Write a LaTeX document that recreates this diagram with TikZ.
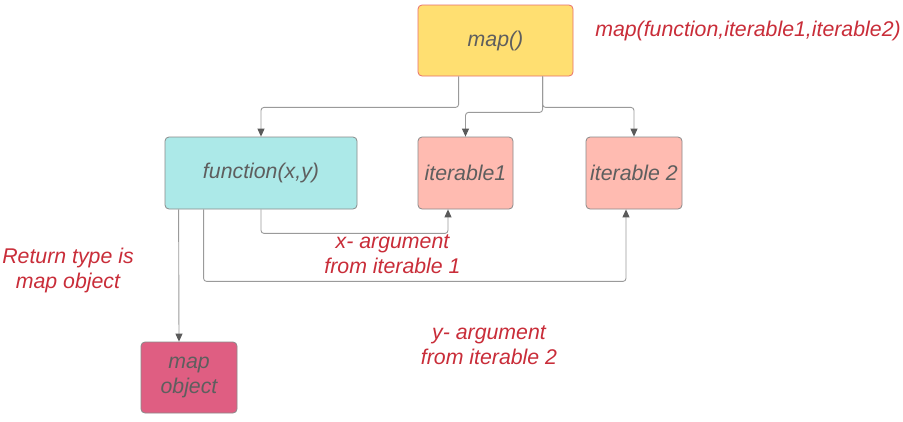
\documentclass[tikz,border=0pt]{standalone}
\usepackage{fontspec}
\setmainfont{Liberation Sans}
\usetikzlibrary{arrows.meta}

\definecolor{mapyellow}{HTML}{FFDF71}
\definecolor{mapedge}{HTML}{E8706B}
\definecolor{funccyan}{HTML}{ACE9E8}
\definecolor{itersalmon}{HTML}{FFBBB1}
\definecolor{objpink}{HTML}{DF5E82}
\definecolor{boxedge}{HTML}{8A8A8A}
\definecolor{boxtext}{HTML}{5E5E5E}
\definecolor{notered}{HTML}{C92D39}
\definecolor{linegray}{HTML}{9A9A9A}
\definecolor{tipgray}{HTML}{5A5A5A}

\begin{document}
\begin{tikzpicture}[x=1pt,y=-1pt,
    box/.style={draw=boxedge,line width=0.8pt,rounded corners=4pt,text=boxtext,
        font=\fontsize{21.3}{25}\selectfont\itshape,align=center,inner sep=0pt},
    note/.style={text=notered,font=\fontsize{21.3}{25}\selectfont\itshape,align=center,inner sep=0pt},
    conn/.style={draw=linegray,line width=0.9pt,rounded corners=3pt,
        -{Triangle[length=8pt,width=7pt,color=tipgray]}}]
    \useasboundingbox[fill=white] (0,0) rectangle (903,421);

    % boxes
    \node[box,fill=mapyellow,draw=mapedge,minimum width=155pt,minimum height=71pt] (map) at (495.5,40.5) {map()};
    \node[box,fill=funccyan,minimum width=192pt,minimum height=72pt] (func) at (261,173) {function(x,y)};
    \node[box,fill=itersalmon,minimum width=95pt,minimum height=72pt] (it1) at (465.5,173) {iterable1};
    \node[box,fill=itersalmon,minimum width=96pt,minimum height=72pt] (it2) at (634,173) {iterable 2};
    \node[box,fill=objpink,minimum width=96pt,minimum height=71pt] (obj) at (189,377.5) {map\\object};

    % red notes
    \node[note] (sig) at (748,31) {map(function,iterable1,iterable2)};
    \node[note] (xarg) at (392.5,254.5) {x- argument\\from iterable 1};
    \node[note] (yarg) at (489,345.5) {y- argument\\from iterable 2};
    \node[note] (ret) at (68,270) {Return type is\\map object};

    % connectors
    \draw[conn] ([xshift=41pt]map.south west) -- ++(0,31) -| (func.north);
    \draw[conn] ([xshift=125pt]map.south west) -- ++(0,36) -| (it1.north);
    \draw[conn] ([xshift=125pt]map.south west) -- ++(0,31) -| (it2.north);
    \draw[conn] (func.south) -- ++(0,24) -| ([xshift=-17.5pt]it1.south);
    \draw[conn] ([xshift=39pt]func.south west) -- ++(0,72) -| ([xshift=-8pt]it2.south);
    \draw[conn] ([xshift=14pt]func.south west) -- ([xshift=-10pt]obj.north);
\end{tikzpicture}
\end{document}
